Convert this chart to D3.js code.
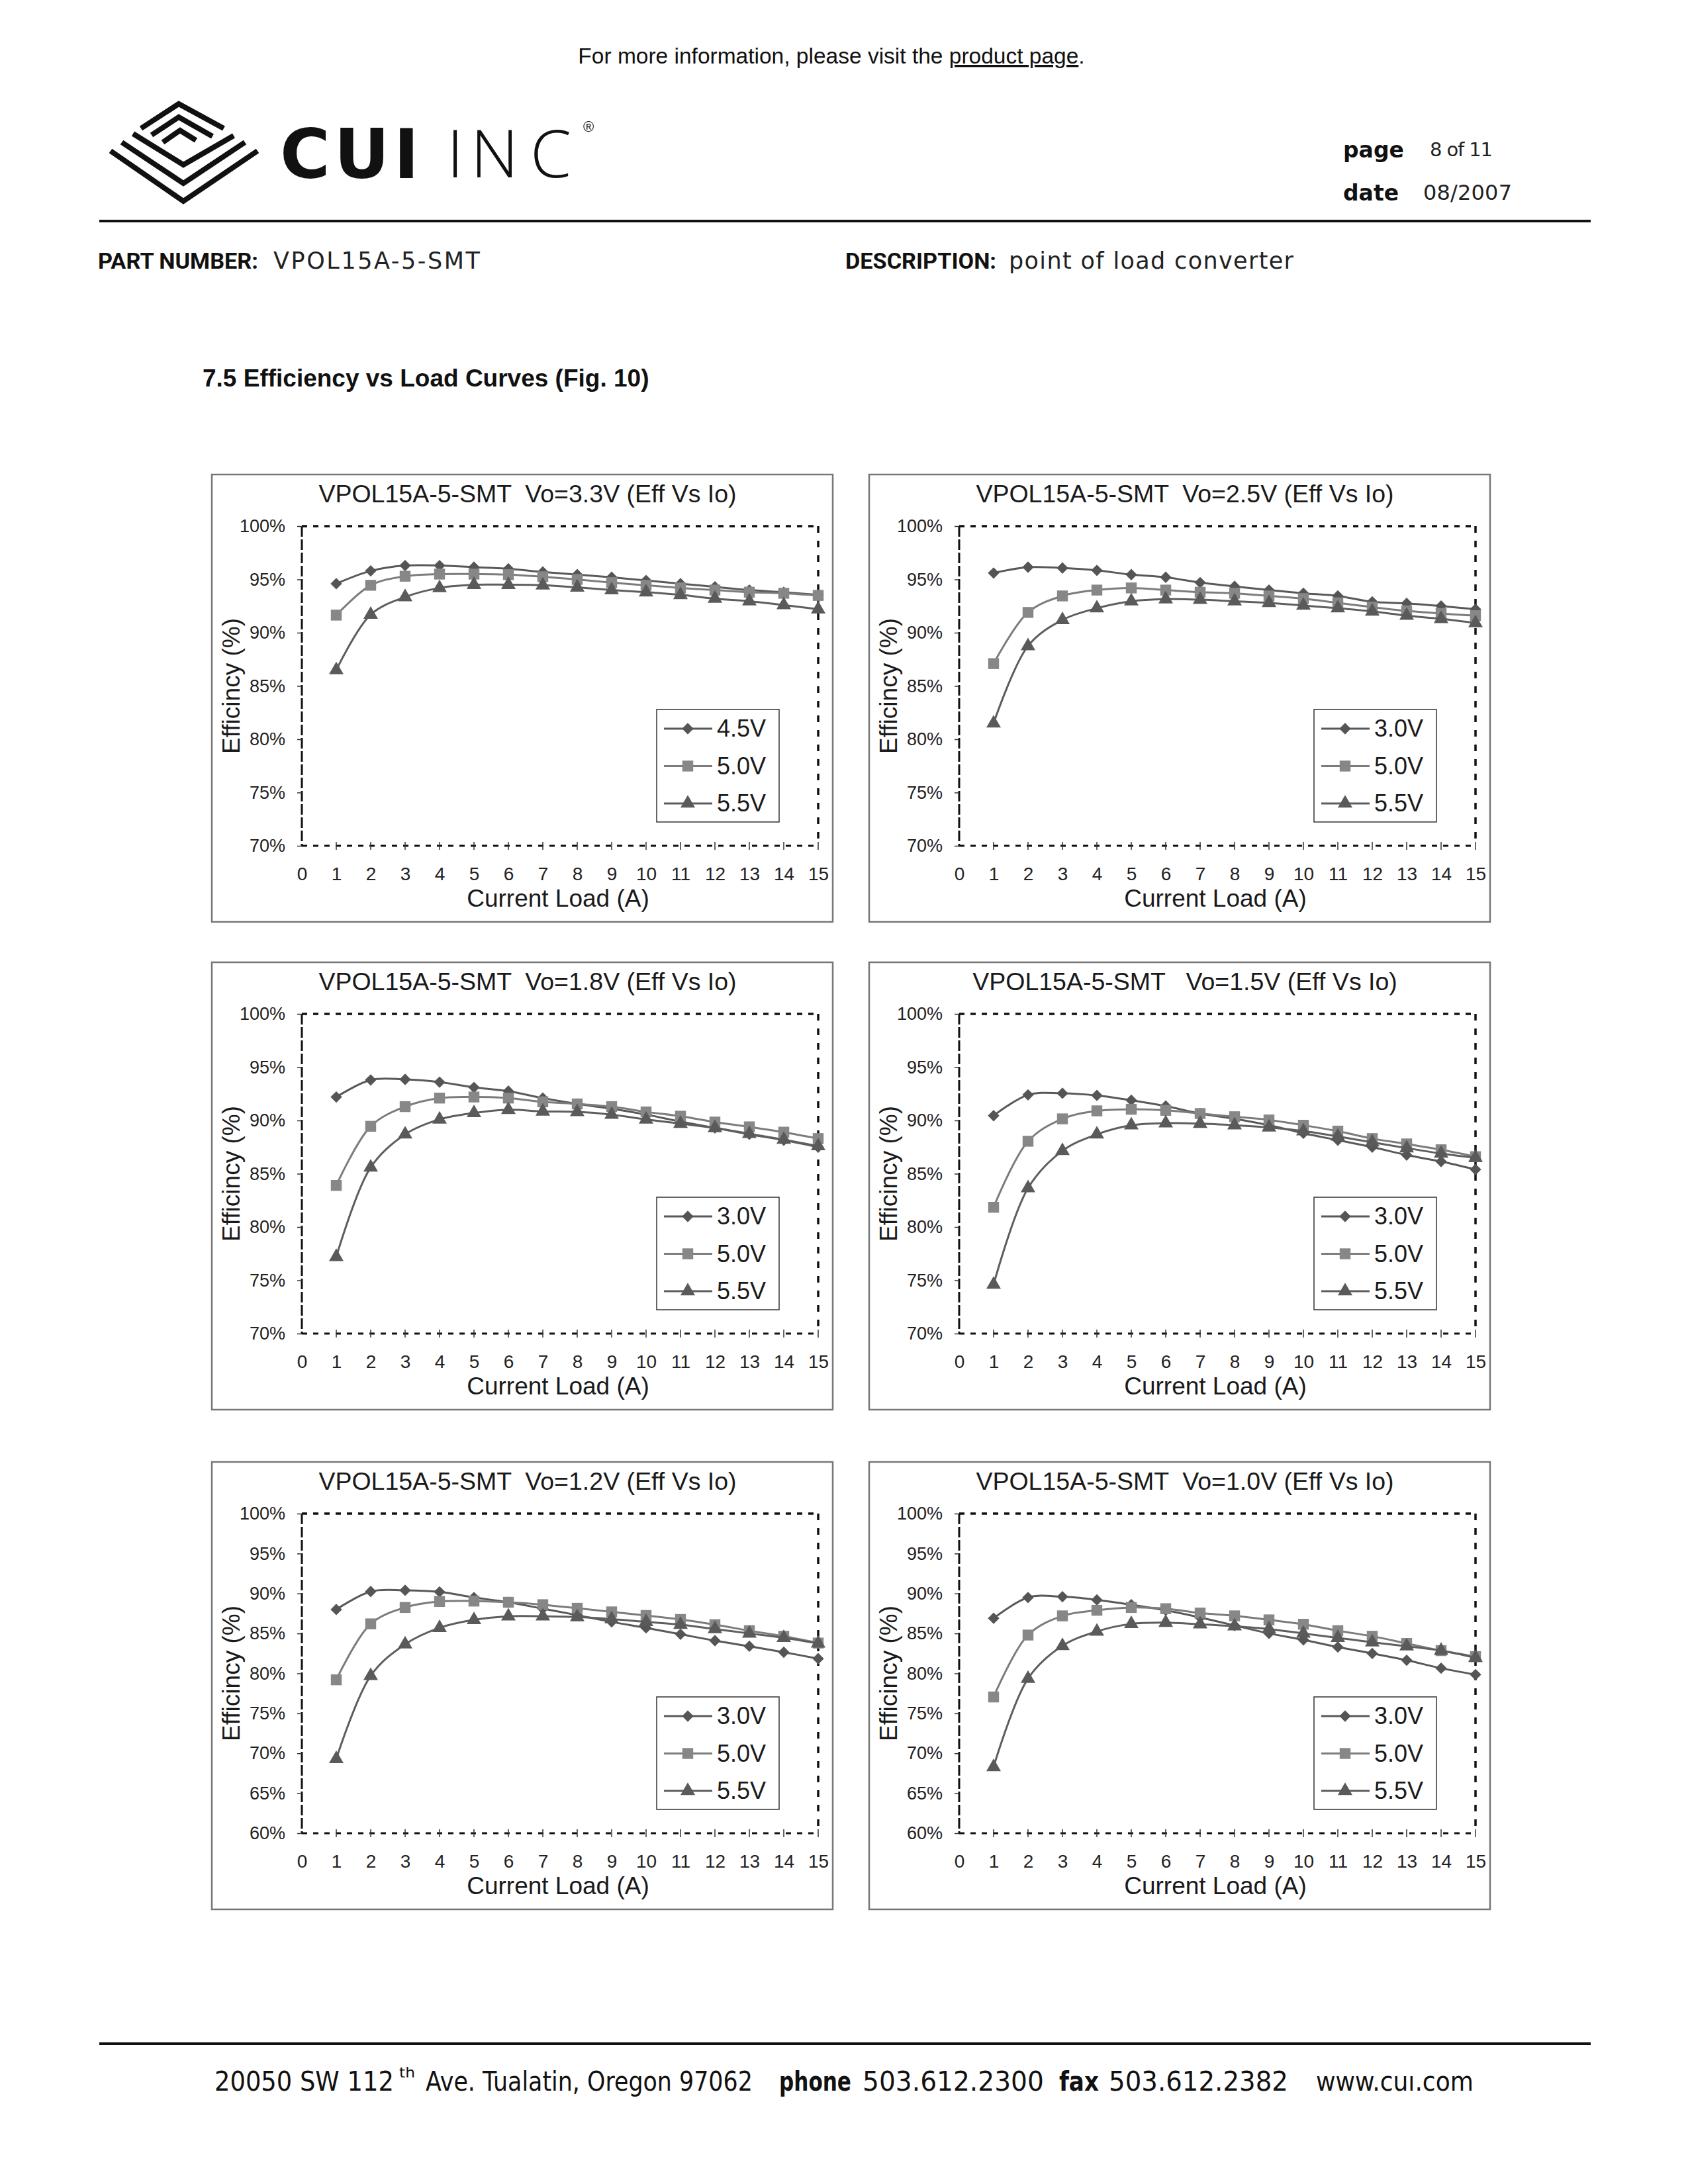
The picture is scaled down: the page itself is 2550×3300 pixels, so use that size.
<!DOCTYPE html>
<html>
<head>
<meta charset="utf-8">
<script src="https://cdn.jsdelivr.net/npm/d3@7"></script>
<style>
  body { margin: 0; background: #fff; }
  svg { display: block; }
  text { white-space: pre; }
</style>
</head>
<body>
<svg id="page" width="2550" height="3300"></svg>
<script>
// ---------------- DATA ----------------
const loadA = [1, 2, 3, 4, 5, 6, 7, 8, 9, 10, 11, 12, 13, 14, 15];
const xTickLabels = [0, 1, 2, 3, 4, 5, 6, 7, 8, 9, 10, 11, 12, 13, 14, 15];
const yTicks70 = [70, 75, 80, 85, 90, 95, 100];
const yTicks60 = [60, 65, 70, 75, 80, 85, 90, 95, 100];

const chartTitles = [
  "VPOL15A-5-SMT  Vo=3.3V (Eff Vs Io)",
  "VPOL15A-5-SMT  Vo=2.5V (Eff Vs Io)",
  "VPOL15A-5-SMT  Vo=1.8V (Eff Vs Io)",
  "VPOL15A-5-SMT   Vo=1.5V (Eff Vs Io)",
  "VPOL15A-5-SMT  Vo=1.2V (Eff Vs Io)",
  "VPOL15A-5-SMT  Vo=1.0V (Eff Vs Io)"
];
const legend33 = ["4.5V", "5.0V", "5.5V"];
const legendOther = ["3.0V", "5.0V", "5.5V"];

// Vo = 3.3V
const eff33_45 = [94.6, 95.8, 96.3, 96.3, 96.15, 96.0, 95.7, 95.45, 95.2, 94.9, 94.6, 94.3, 94.0, 93.8, 93.55];
const eff33_50 = [91.65, 94.45, 95.3, 95.5, 95.5, 95.45, 95.25, 95.0, 94.7, 94.45, 94.2, 94.0, 93.8, 93.7, 93.5];
const eff33_55 = [86.5, 91.7, 93.35, 94.2, 94.5, 94.5, 94.45, 94.25, 94.0, 93.8, 93.55, 93.2, 92.95, 92.6, 92.2];
// Vo = 2.5V
const eff25_30 = [95.6, 96.15, 96.07, 95.85, 95.45, 95.2, 94.7, 94.35, 94.0, 93.7, 93.45, 92.9, 92.75, 92.5, 92.2];
const eff25_50 = [87.1, 91.9, 93.45, 94.0, 94.2, 94.0, 93.8, 93.7, 93.45, 93.2, 92.8, 92.4, 92.05, 91.8, 91.6];
const eff25_55 = [81.5, 88.75, 91.2, 92.3, 92.95, 93.15, 93.1, 92.95, 92.8, 92.55, 92.3, 92.0, 91.6, 91.3, 90.9];
// Vo = 1.8V
const eff18_30 = [92.2, 93.8, 93.85, 93.6, 93.1, 92.75, 92.1, 91.55, 91.1, 90.55, 89.9, 89.3, 88.7, 88.15, 87.5];
const eff18_50 = [83.9, 89.45, 91.3, 92.1, 92.2, 92.1, 91.75, 91.55, 91.3, 90.8, 90.4, 89.85, 89.4, 88.9, 88.3];
const eff18_55 = [77.2, 85.6, 88.7, 90.1, 90.7, 91.0, 90.85, 90.8, 90.55, 90.1, 89.7, 89.3, 88.75, 88.2, 87.6];
// Vo = 1.5V
const eff15_30 = [90.45, 92.4, 92.55, 92.35, 91.9, 91.35, 90.65, 90.15, 89.55, 88.8, 88.15, 87.5, 86.75, 86.15, 85.4];
const eff15_50 = [81.85, 88.05, 90.15, 90.9, 91.05, 90.95, 90.65, 90.35, 90.05, 89.55, 89.0, 88.3, 87.8, 87.25, 86.6];
const eff15_55 = [74.6, 83.65, 87.15, 88.7, 89.55, 89.75, 89.7, 89.55, 89.35, 89.0, 88.5, 87.95, 87.4, 86.9, 86.5];
// Vo = 1.2V
const eff12_30 = [88.0, 90.25, 90.4, 90.2, 89.5, 88.9, 88.1, 87.3, 86.45, 85.7, 84.9, 84.1, 83.4, 82.65, 81.85];
const eff12_50 = [79.2, 86.2, 88.25, 89.0, 89.05, 88.9, 88.6, 88.15, 87.7, 87.25, 86.75, 86.1, 85.35, 84.65, 83.8];
const eff12_55 = [69.3, 79.7, 83.65, 85.7, 86.7, 87.15, 87.15, 87.05, 86.8, 86.45, 86.1, 85.55, 85.0, 84.45, 83.75];
// Vo = 1.0V
const eff10_30 = [86.9, 89.5, 89.6, 89.2, 88.6, 87.9, 87.0, 86.0, 85.0, 84.2, 83.3, 82.5, 81.65, 80.65, 79.85];
const eff10_50 = [77.05, 84.8, 87.2, 87.9, 88.25, 88.1, 87.55, 87.2, 86.7, 86.15, 85.35, 84.65, 83.75, 82.85, 82.1];
const eff10_55 = [68.3, 79.35, 83.45, 85.25, 86.2, 86.35, 86.15, 85.9, 85.55, 85.0, 84.45, 83.9, 83.4, 82.85, 81.95];

// ---------------- LAYOUT ----------------
const svg = d3.select("#page");
const F = "'Liberation Sans', Arial, sans-serif";

const charts = [
  { title: chartTitles[0], legend: legend33,   series: [eff33_45, eff33_50, eff33_55], yTicks: yTicks70, x0: 320,  y0: 717 },
  { title: chartTitles[1], legend: legendOther, series: [eff25_30, eff25_50, eff25_55], yTicks: yTicks70, x0: 1313, y0: 717 },
  { title: chartTitles[2], legend: legendOther, series: [eff18_30, eff18_50, eff18_55], yTicks: yTicks70, x0: 320,  y0: 1454 },
  { title: chartTitles[3], legend: legendOther, series: [eff15_30, eff15_50, eff15_55], yTicks: yTicks70, x0: 1313, y0: 1454 },
  { title: chartTitles[4], legend: legendOther, series: [eff12_30, eff12_50, eff12_55], yTicks: yTicks60, x0: 320,  y0: 2209 },
  { title: chartTitles[5], legend: legendOther, series: [eff10_30, eff10_50, eff10_55], yTicks: yTicks60, x0: 1313, y0: 2209 }
];

const seriesStyle = [
  { line: "#595959", fill: "#555", sym: "diamond" },
  { line: "#7c7c7c", fill: "#878787", sym: "square" },
  { line: "#5e5e5e", fill: "#5a5a5a", sym: "triangle" }
];

function marker(sel, type, color) {
  if (type === "diamond") {
    sel.append("path").attr("d", d3.symbol(d3.symbolSquare, 150)()).attr("transform", "rotate(45)").attr("fill", color);
  } else if (type === "square") {
    sel.append("path").attr("d", d3.symbol(d3.symbolSquare, 270)()).attr("fill", color);
  } else {
    sel.append("path").attr("d", d3.symbol(d3.symbolTriangle, 210)()).attr("fill", color);
  }
}

function drawChart(cfg) {
  const W = 938, H = 676;
  const g = svg.append("g").attr("transform", `translate(${cfg.x0},${cfg.y0})`);
  g.append("rect").attr("x", 0).attr("y", 0).attr("width", W).attr("height", H)
    .attr("fill", "#fff").attr("stroke", "#777").attr("stroke-width", 2.5);

  const L = 136, R = 916, T = 78, B = 561;
  const yMin = d3.min(cfg.yTicks), yMax = d3.max(cfg.yTicks);
  const x = d3.scaleLinear().domain([0, 15]).range([L, R]);
  const y = d3.scaleLinear().domain([yMin, yMax]).range([B, T]);

  g.append("text").attr("x", 477).attr("y", 42).attr("text-anchor", "middle")
    .attr("font-family", F).attr("font-size", 37.5).attr("fill", "#1a1a1a").text(cfg.title);

  g.append("line").attr("x1", L).attr("x2", R).attr("y1", T).attr("y2", T)
    .attr("stroke", "#111").attr("stroke-width", 3.5).attr("stroke-dasharray", "8,9");
  g.append("line").attr("x1", R).attr("x2", R).attr("y1", T).attr("y2", B)
    .attr("stroke", "#111").attr("stroke-width", 3.5).attr("stroke-dasharray", "10,12");
  g.append("line").attr("x1", L).attr("x2", R).attr("y1", B).attr("y2", B)
    .attr("stroke", "#111").attr("stroke-width", 3).attr("stroke-dasharray", "8,9");
  g.append("line").attr("x1", L).attr("x2", L).attr("y1", T).attr("y2", B)
    .attr("stroke", "#111").attr("stroke-width", 3).attr("stroke-dasharray", "16,4");

  const ya = g.append("g").attr("transform", `translate(${L},0)`)
    .call(d3.axisLeft(y).tickValues(cfg.yTicks).tickSize(7).tickPadding(18).tickFormat(d => d + "%"));
  ya.select(".domain").remove();
  ya.selectAll(".tick line").attr("stroke", "#333").attr("stroke-width", 1.5);
  ya.selectAll(".tick text").attr("font-family", F).attr("font-size", 27).attr("fill", "#222");

  const xa = g.append("g").attr("transform", `translate(0,${B})`)
    .call(d3.axisBottom(x).tickValues(xTickLabels).tickSize(0).tickPadding(32).tickFormat(d3.format("d")));
  xa.select(".domain").remove();
  xa.selectAll(".tick text").attr("font-family", F).attr("font-size", 28).attr("fill", "#222");
  g.append("g").selectAll("line").data(xTickLabels.slice(1)).join("line")
    .attr("x1", d => x(d)).attr("x2", d => x(d)).attr("y1", B - 6).attr("y2", B + 6)
    .attr("stroke", "#333").attr("stroke-width", 1.5);

  g.append("text").attr("x", 523).attr("y", 653).attr("text-anchor", "middle")
    .attr("font-family", F).attr("font-size", 37).attr("fill", "#1a1a1a").text("Current Load (A)");
  g.append("text").attr("transform", `translate(42,${(T + B) / 2}) rotate(-90)`).attr("text-anchor", "middle")
    .attr("font-family", F).attr("font-size", 37).attr("fill", "#1a1a1a").text("Efficincy (%)");

  const line = d3.line().x((d, i) => x(loadA[i])).y(d => y(d)).curve(d3.curveCatmullRom.alpha(0.5));
  cfg.series.forEach((vals, si) => {
    const st = seriesStyle[si];
    g.append("path").attr("d", line(vals)).attr("fill", "none").attr("stroke", st.line).attr("stroke-width", 3);
    g.append("g").selectAll("g").data(vals).join("g")
      .attr("transform", (d, i) => `translate(${x(loadA[i])},${y(d)})`)
      .each(function () { marker(d3.select(this), st.sym, st.fill); });
  });

  const lg = g.append("g");
  lg.append("rect").attr("x", 672).attr("y", 355).attr("width", 185).attr("height", 170)
    .attr("fill", "#fff").attr("stroke", "#333").attr("stroke-width", 1.5);
  cfg.legend.forEach((lab, i) => {
    const yy = 384 + i * 56.5;
    const st = seriesStyle[i];
    lg.append("line").attr("x1", 683).attr("x2", 756).attr("y1", yy).attr("y2", yy)
      .attr("stroke", st.line).attr("stroke-width", 3);
    marker(lg.append("g").attr("transform", `translate(719,${yy})`), st.sym, st.fill);
    lg.append("text").attr("x", 763).attr("y", yy + 12).attr("font-family", F).attr("font-size", 36)
      .attr("fill", "#1a1a1a").text(lab);
  });
}

// ---------------- PAGE HEADER ----------------
const topText = svg.append("text").attr("x", 1256).attr("y", 96).attr("text-anchor", "middle")
  .attr("font-family", F).attr("font-size", 33.5).attr("fill", "#111");
topText.append("tspan").text("For more information, please visit the ");
topText.append("tspan").style("text-decoration", "underline").text("product page");
topText.append("tspan").text(".");

const logo = svg.append("g").attr("fill", "none").attr("stroke", "#111").attr("stroke-width", 8).attr("stroke-linejoin", "miter");
const logoLines = [
  [[213, 194], [270, 157], [338, 194]],
  [[229, 204], [270, 177], [321, 206]],
  [[246, 215], [272, 197], [296, 212]],
  [[201, 202], [277, 249], [353, 205]],
  [[184, 215], [277, 277], [370, 215]],
  [[167, 228], [277, 304], [389, 228]]
];
logoLines.forEach(p => logo.append("path").attr("d", d3.line()(p)));

svg.append("text").attr("x", 423).attr("y", 269).attr("font-family", "'DejaVu Sans', sans-serif")
  .attr("font-weight", "bold").attr("font-size", 103).attr("textLength", 210).attr("lengthAdjust", "spacing")
  .attr("fill", "#111").text("CUI");
[["I", 675], ["N", 711], ["C", 801]].forEach(([ch, xx]) => {
  svg.append("text").attr("x", xx).attr("y", 268).attr("font-family", "'Open Sans', 'DejaVu Sans', sans-serif")
    .attr("font-weight", 300).attr("font-size", 100).attr("fill", "#111").text(ch);
});
svg.append("text").attr("x", 881).attr("y", 199).attr("font-family", F).attr("font-size", 22).attr("fill", "#111").text("®");

svg.append("text").attr("x", 2029).attr("y", 238).attr("font-family", "'DejaVu Sans', sans-serif").attr("font-weight", "bold")
  .attr("font-size", 33).attr("fill", "#111").text("page");
svg.append("text").attr("x", 2160).attr("y", 236).attr("font-family", "'DejaVu Sans', sans-serif")
  .attr("font-size", 29).attr("fill", "#222").attr("textLength", 95).text("8 of 11");
svg.append("text").attr("x", 2029).attr("y", 303).attr("font-family", "'DejaVu Sans', sans-serif").attr("font-weight", "bold")
  .attr("font-size", 33).attr("fill", "#111").text("date");
svg.append("text").attr("x", 2150).attr("y", 302).attr("font-family", "'DejaVu Sans', sans-serif")
  .attr("font-size", 32).attr("fill", "#222").attr("textLength", 134).text("08/2007");

svg.append("line").attr("x1", 150).attr("x2", 2403).attr("y1", 334).attr("y2", 334).attr("stroke", "#111").attr("stroke-width", 4);

svg.append("text").attr("x", 148).attr("y", 406).attr("font-family", "Roboto, sans-serif").attr("font-weight", "bold")
  .attr("font-size", 33).attr("fill", "#111").attr("textLength", 242).attr("lengthAdjust", "spacingAndGlyphs").text("PART NUMBER:");
svg.append("text").attr("x", 413).attr("y", 406).attr("font-family", "'DejaVu Sans', sans-serif")
  .attr("font-size", 35).attr("fill", "#222").attr("textLength", 312).text("VPOL15A-5-SMT");
svg.append("text").attr("x", 1277).attr("y", 406).attr("font-family", "Roboto, sans-serif").attr("font-weight", "bold")
  .attr("font-size", 33).attr("fill", "#111").attr("textLength", 228).attr("lengthAdjust", "spacingAndGlyphs").text("DESCRIPTION:");
svg.append("text").attr("x", 1524).attr("y", 406).attr("font-family", "'DejaVu Sans', sans-serif")
  .attr("font-size", 35).attr("fill", "#222").attr("textLength", 430).text("point of load converter");

svg.append("text").attr("x", 306).attr("y", 584).attr("font-family", F).attr("font-weight", "bold")
  .attr("font-size", 37).attr("fill", "#111").text("7.5 Efficiency vs Load Curves (Fig. 10)");

charts.forEach(drawChart);

// ---------------- FOOTER ----------------
svg.append("line").attr("x1", 150).attr("x2", 2403).attr("y1", 3088).attr("y2", 3088).attr("stroke", "#111").attr("stroke-width", 4);
const FF = "'DejaVu Sans', sans-serif";
const footerParts = [
  { t: "20050 SW 112", x: 324, w: 271, fs: 40, dy: 0, b: false },
  { t: "th", x: 603, w: 24, fs: 22, dy: -20, b: false },
  { t: "Ave. Tualatin, Oregon 97062", x: 643, w: 494, fs: 40, dy: 0, b: false },
  { t: "phone", x: 1177, w: 109, fs: 40, dy: 0, b: true },
  { t: "503.612.2300", x: 1303, w: 274, fs: 40, dy: 0, b: false },
  { t: "fax", x: 1600, w: 60, fs: 40, dy: 0, b: true },
  { t: "503.612.2382", x: 1675, w: 271, fs: 40, dy: 0, b: false },
  { t: "www.cuı.com", x: 1988, w: 238, fs: 40, dy: 0, b: false }
];
footerParts.forEach(p => {
  const gg = svg.append("g");
  const t = gg.append("text").attr("x", 0).attr("y", 0).attr("font-family", FF)
    .attr("font-size", p.fs).attr("font-weight", p.b ? "bold" : "normal").attr("fill", "#111").text(p.t);
  const nat = t.node().getComputedTextLength();
  gg.attr("transform", `translate(${p.x},${3159 + p.dy}) scale(${p.w / nat},1)`);
});
</script>
</body>
</html>
